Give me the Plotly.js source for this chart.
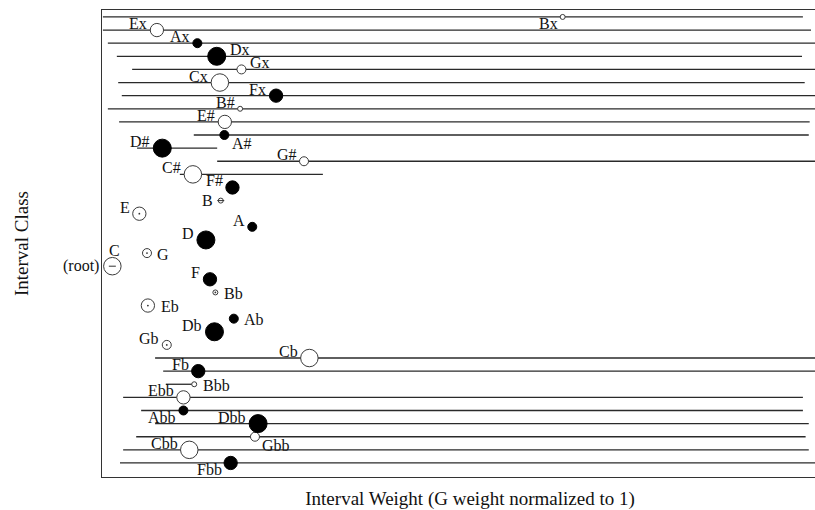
<!DOCTYPE html>
<html>
<head>
<meta charset="utf-8">
<script src="https://cdn.plot.ly/plotly-3.0.1.min.js"></script>
<style>html,body{margin:0;padding:0;background:#fff;overflow:hidden;width:815px;height:510px;}#chart{width:838px;height:510px;}</style>
</head>
<body>
<div id="chart"></div>
<script>
// Interval classes ordered along the line of fifths (bottom to top)
const notes = ['Fbb','Cbb','Gbb','Dbb','Abb','Ebb','Bbb','Fb','Cb','Gb','Db','Ab','Eb','Bb','F','C','G','D','A','E','B',
               'F#','C#','G#','D#','A#','E#','B#','Fx','Cx','Gx','Dx','Ax','Ex','Bx'];
// Interval weight (G weight normalized to 1)
const weights = [2.86,1.94,3.40,3.47,1.81,1.81,2.05,2.14,4.61,1.44,2.50,2.93,1.02,2.52,2.40,0.23,1.00,2.31,3.34,0.83,2.64,
                 2.90,2.02,4.49,1.34,2.72,2.73,3.07,3.87,2.62,3.10,2.55,2.12,1.22,10.24];
// Horizontal range lines (start / end weight), null where no line is drawn
const lineStart = [0.40,0.47,0.76,1.18,0.87,0.47,1.42,1.36,1.18,null,null,null,null,null,null,null,null,null,null,null,null,
                   null,1.73,2.56,0.78,2.04,0.38,0.13,0.44,0.36,0.67,0.33,0.13,0.02,0.02];
const lineEnd   = [17.0,15.71,15.64,15.71,15.58,15.58,2.04,17.0,17.0,null,null,null,null,null,null,null,null,null,null,null,null,
                   null,4.91,17.0,2.56,15.71,15.73,17.0,17.0,15.62,17.0,15.56,17.0,15.76,15.58];
// Interval classes with a centre mark
const dashMarked = ['C','B'];
const dotMarked = ['E','G','Eb','Bb','Gb'];
const rootNote = 'C';

// ---- styles ----
const letterStyle = {
  D:{size:18, filled:true}, C:{size:17.5, filled:false},
  F:{size:13.3, filled:true}, E:{size:13.3, filled:false},
  A:{size:9, filled:true}, G:{size:9, filled:false},
  B:{size:5, filled:false}
};
const labelPos = {
  'Bx':'bottom left','Ex':'top left','Ax':'top left','Dx':'top right','Gx':'top right','Cx':'top left','Fx':'top left',
  'B#':'top left','E#':'top left','A#':'bottom right','D#':'top left','G#':'top left','C#':'top left','F#':'top left',
  'B':'middle left','E':'top left','A':'top left','D':'top left','G':'middle right','C':'top center','F':'top left',
  'Bb':'middle right','Eb':'middle right','Ab':'middle right','Db':'top left','Gb':'top left','Cb':'top left','Fb':'top left',
  'Bbb':'middle right','Ebb':'top left','Abb':'bottom left','Dbb':'top left','Gbb':'bottom right','Cbb':'top left','Fbb':'bottom left'
};
function placement(pos, r) {
  switch (pos) {
    case 'top left':     return {xanchor:'right', xshift:-(r+1),  yshift:6.5};
    case 'top right':    return {xanchor:'left',  xshift:r+2,     yshift:6.5};
    case 'bottom left':  return {xanchor:'right', xshift:-(r+0.5),yshift:-7};
    case 'bottom right': return {xanchor:'left',  xshift:r+1,     yshift:-8.5};
    case 'middle left':  return {xanchor:'right', xshift:-(r+3),  yshift:0};
    case 'middle right': return {xanchor:'left',  xshift:r+4,     yshift:-1};
    case 'top center':   return {xanchor:'center',xshift:2,       yshift:r+7};
  }
}
const FONT = 'Liberation Serif, Times New Roman, serif';
const INK = '#111';

const traces = [];
// range lines
const lx = [], ly = [];
notes.forEach((n,i)=>{
  if (lineStart[i] !== null) { lx.push(lineStart[i], lineEnd[i], null); ly.push(n, n, null); }
});
traces.push({type:'scatter', mode:'lines', x:lx, y:ly, line:{color:'#2a2a2a', width:1.3}, hoverinfo:'skip', showlegend:false});

// points
traces.push({
  type:'scatter', mode:'markers', x:weights, y:notes,
  marker:{
    symbol:'circle', opacity:1,
    size: notes.map(n=>letterStyle[n[0]].size),
    color: notes.map(n=>letterStyle[n[0]].filled ? '#000' : '#fff'),
    line:{color: notes.map(n=>letterStyle[n[0]].filled ? '#000' : '#3a3a3a'), width:1}
  },
  cliponaxis:false, showlegend:false, hoverinfo:'x+y'
});
// centre marks
traces.push({type:'scatter', mode:'markers', x:dashMarked.map(n=>weights[notes.indexOf(n)]), y:dashMarked,
  marker:{symbol:'line-ew', opacity:1, size:5, line:{color:'#333', width:1}}, hoverinfo:'skip', showlegend:false});
traces.push({type:'scatter', mode:'markers', x:dotMarked.map(n=>weights[notes.indexOf(n)]), y:dotMarked,
  marker:{symbol:'circle', opacity:1, size:1.8, color:'#333'}, hoverinfo:'skip', showlegend:false});

// labels
const annotations = notes.map((n,i)=>{
  const r = letterStyle[n[0]].size/2;
  return Object.assign({x:weights[i], y:n, xref:'x', yref:'y', text:n, showarrow:false, yanchor:'middle',
    font:{family:FONT, size:16, color:INK}}, placement(labelPos[n], r));
});
annotations.push({x:weights[notes.indexOf(rootNote)], y:rootNote, xref:'x', yref:'y', text:'(root)', showarrow:false,
  xanchor:'right', yanchor:'middle', xshift:-11, yshift:0, font:{family:FONT, size:16, color:INK}});

const layout = {
  width:838, height:510,
  margin:{l:102, r:0, t:10, b:33},
  paper_bgcolor:'#fff', plot_bgcolor:'#fff',
  font:{family:FONT, color:INK},
  showlegend:false,
  xaxis:{range:[0,16.36], showgrid:false, zeroline:false, showticklabels:false, ticks:'',
         showline:true, mirror:true, linecolor:'#333', linewidth:1,
         title:{text:'Interval Weight (G weight normalized to 1)', font:{family:FONT, size:19, color:INK}, standoff:14}},
  yaxis:{type:'category', categoryorder:'array', categoryarray:notes, range:[-1.07,34.53],
         showgrid:false, zeroline:false, showticklabels:false, ticks:'',
         showline:true, mirror:false, linecolor:'#333', linewidth:1,
         title:{text:'Interval Class', font:{family:FONT, size:19, color:INK}, standoff:67}},
  annotations: annotations
};
Plotly.newPlot('chart', traces, layout, {displayModeBar:false, staticPlot:true});
</script>
</body>
</html>
